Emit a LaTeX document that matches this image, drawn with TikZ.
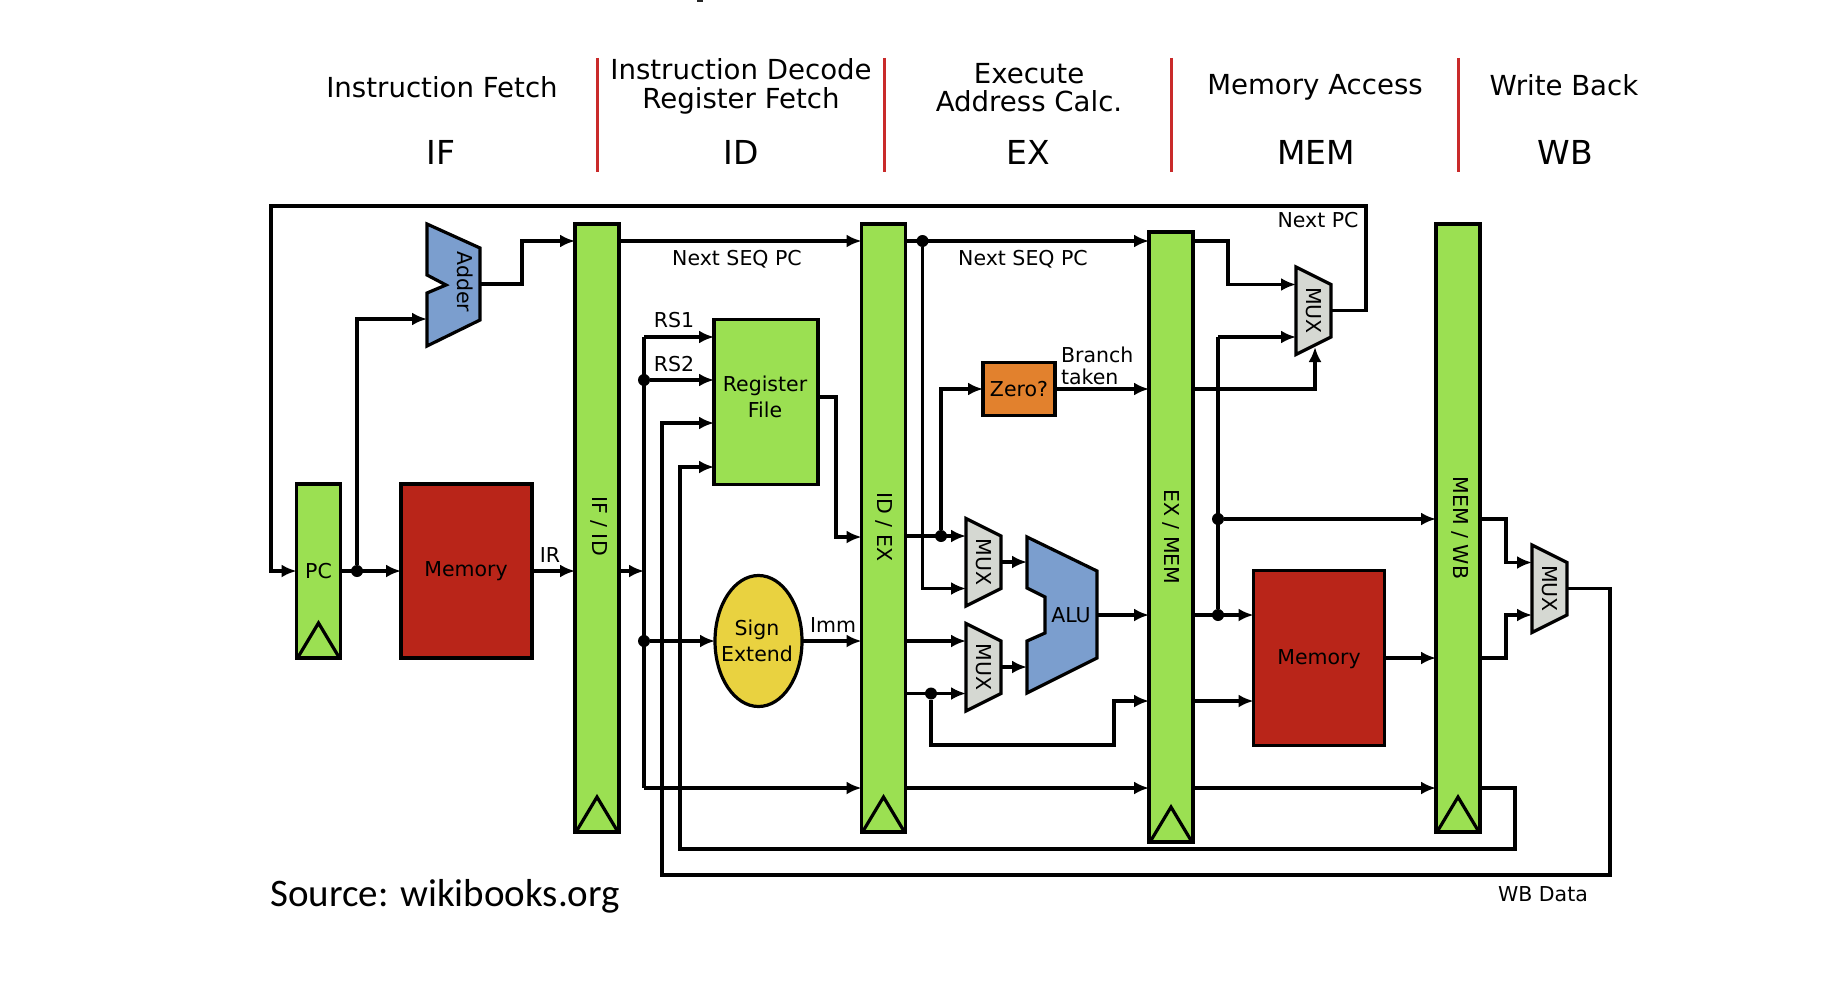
\documentclass[tikz,border=0pt]{standalone}
\usepackage{fontspec}
\setmainfont{DejaVu Sans}
\newfontfamily\srcfont{Carlito}
\usetikzlibrary{arrows.meta,shapes.geometric}
\definecolor{grn}{HTML}{9BE052}
\definecolor{redb}{HTML}{B92519}
\definecolor{blu}{HTML}{7B9ECE}
\definecolor{gry}{HTML}{D5D8D2}
\definecolor{yel}{HTML}{E9D240}
\definecolor{org}{HTML}{E2812D}
\definecolor{sep}{HTML}{C92A2A}
\tikzset{
  x=1pt,y=-1pt,
  block/.style={draw=black,line width=3.2pt,inner sep=0pt,outer sep=0pt,font=\fontsize{20.5}{26}\selectfont,align=center},
  lbl/.style={inner sep=0pt,outer sep=0pt,font=\fontsize{20.5}{21.5}\selectfont,align=center},
  vlbl/.style={lbl,rotate=-90},
  head/.style={inner sep=0pt,font=\fontsize{27.6}{28.5}\selectfont,align=center},
  stage/.style={inner sep=0pt,font=\fontsize{33}{33}\selectfont},
  sepline/.style={draw=sep,line width=3pt},
  wire/.style={draw=black,line width=3.2pt,line join=miter},
  arr/.style={wire,-{Latex[length=15pt,width=13pt]}},
  dotn/.style={circle,fill=black,inner sep=0pt,minimum size=12pt},
  poly/.style={draw=black,line width=3.2pt,line join=miter},
  clk/.style={draw=black,line width=3.2pt,line join=miter}
}
\begin{document}
\begin{tikzpicture}
\useasboundingbox (0,0) rectangle (1822,990);
\fill[white] (0,0) rectangle (1822,990);
\fill[black!85] (697,0) rectangle (703,2);
% headers
\node[head] (hif) at (442,87) {Instruction Fetch};
\node[head] (hid) at (741,86.5) {Instruction Decode\\Register Fetch};
\node[head] (hex) at (1029,87.5) {Execute\\Address Calc.};
\node[head] (hmem) at (1315,87) {Memory Access};
\node[head] (hwb) at (1564,85) {Write Back};
\node[stage] (sif) at (441,152) {IF};
\node[stage] (sid) at (741,152) {ID};
\node[stage] (sex) at (1028,152) {EX};
\node[stage] (smem) at (1316,152) {MEM};
\node[stage] (swb) at (1565,152) {WB};
\foreach \i/\xx in {a/597.5,b/884,c/1171,d/1458}{
  \coordinate (s\i t) at (\xx,58);
  \coordinate (s\i b) at (\xx,172);
  \draw[sepline] (s\i t) -- (s\i b);
}
% blocks
\node[block,fill=grn,minimum width=44pt,minimum height=174pt] (pc) at (318.5,571) {PC};
\node[block,fill=redb,minimum width=131pt,minimum height=174pt] (mema) at (466.5,571) {};
\node[lbl] (memat) at (466,571) {Memory};
\node[block,fill=grn,minimum width=44pt,minimum height=608pt] (ifid) at (597,528) {};
\node[block,fill=grn,minimum width=44pt,minimum height=608pt] (idex) at (883.5,528) {};
\node[block,fill=grn,minimum width=44pt,minimum height=610pt] (exmem) at (1171,537) {};
\node[block,fill=grn,minimum width=44pt,minimum height=608pt] (memwb) at (1458,528) {};
\node[vlbl] at (599,526) {IF / ID};
\node[vlbl] at (884,527) {ID / EX};
\node[vlbl] at (1171,537) {EX / MEM};
\node[vlbl] at (1460,528) {MEM / WB};
\node[block,fill=grn,minimum width=104pt,minimum height=165pt] (reg) at (766,402) {};
\node[lbl,font=\fontsize{20.5}{26.5}\selectfont] (regt) at (765,397) {Register\\File};
\node[block,ellipse,fill=yel,minimum width=87pt,minimum height=131pt] (sign) at (758.5,641) {};
\node[lbl,font=\fontsize{20.5}{25.5}\selectfont] (signt) at (757,641) {Sign\\Extend};
\node[block,fill=org,minimum width=72pt,minimum height=53pt] (zero) at (1019,389) {Zero?};
\node[block,fill=redb,minimum width=131pt,minimum height=175pt] (memb) at (1319,658) {};
\node[lbl] (membt) at (1319,659) {Memory};
% polygons
\draw[poly,fill=blu] (427,224)--(480,248)--(480,320)--(427,346)--(427,293)--(446,285)--(427,275)--cycle;
\node[vlbl] (addert) at (465,282) {Adder};
\coordinate (addin) at (427,319);
\coordinate (addout) at (480,284);
\draw[poly,fill=blu] (1027,537)--(1097,571)--(1097,658)--(1027,693)--(1027,641)--(1045,633)--(1045,597)--(1027,588)--cycle;
\node[lbl] (alut) at (1071,615) {ALU};
\coordinate (aluina) at (1027,562);
\coordinate (aluinb) at (1027,667);
\coordinate (aluout) at (1097,615);
\foreach \n/\xl/\yc in {a/966/562,b/966/667,c/1296/310.5,d/1532/588.5}{
  \draw[poly,fill=gry] (\xl,\yc-43.5)--(\xl+35,\yc-26)--(\xl+35,\yc+26.5)--(\xl,\yc+44)--cycle;
  \node[vlbl] (mux\n) at (\xl+18,\yc) {MUX};
  \coordinate (mux\n ia) at (\xl,\yc-26);
  \coordinate (mux\n ib) at (\xl,\yc+26.5);
  \coordinate (mux\n o) at (\xl+35,\yc);
}
\coordinate (muxcs) at (1315,347);
% clock triangles
\foreach \n in {pc,ifid,idex,exmem,memwb}{
  \draw[clk] ([xshift=-21pt]\n.south) -- ([yshift=35pt]\n.south) -- ([xshift=21pt]\n.south);
}
% labels
\node[lbl] at (550,555) {IR};
\node[lbl] at (674,320) {RS1};
\node[lbl] at (674,364) {RS2};
\node[lbl] at (737,259) {Next SEQ PC};
\node[lbl] at (1023,259) {Next SEQ PC};
\node[lbl] at (833,625) {Imm};
\node[lbl,align=left,anchor=west] at (1061,366) {Branch\\taken};
\node[lbl] at (1318,220) {Next PC};
\node[lbl] at (1543,894) {WB Data};
\node[inner sep=0pt,font=\srcfont\fontsize{39}{39}\selectfont,anchor=west] (src) at (270,896) {Source: wikibooks.org};
% junctions
\node[dotn] (dpc) at (357,571) {};
\node[dotn] (drs) at (644,380) {};
\node[dotn] (dimm) at (644,641) {};
\node[dotn] (dseq) at (922.5,241) {};
\node[dotn] (dza) at (941,536) {};
\node[dotn] (dfw) at (931,693.5) {};
\node[dotn] (dalu) at (1218,615) {};
\node[dotn] (dmem) at (1218,519) {};
% wires
\draw[arr] (muxco) -| (1366,206) -- (271,206) |- (pc.west);
\draw[arr] (pc.east) -- (mema.west);
\draw[arr] (dpc) |- (addin);
\draw[arr] (addout) -| (522,241) -- (ifid.west |- 0,241);
\draw[arr] (mema.east) -- (mema.east -| ifid.west);
\draw[arr] (ifid.east |- 0,571) -- (dimm |- 0,571);
\draw[arr] (ifid.east |- dseq) -- (idex.west |- dseq);
\draw[arr] (idex.east |- dseq) -- (exmem.west |- dseq);
\draw[arr] (dseq) |- (muxaib);
\draw[wire] (dimm |- 0,337) -- (dimm |- 0,788);
\draw[arr] (dimm |- 0,337) -- (reg.west |- 0,337);
\draw[arr] (drs) -- (reg.west |- drs);
\draw[arr] (dimm) -- (sign.west);
\draw[arr] (sign.east) -- (idex.west |- sign.east);
\draw[arr] (dimm |- 0,788) -- (idex.west |- 0,788);
\draw[arr] (idex.east |- 0,788) -- (exmem.west |- 0,788);
\draw[arr] (exmem.east |- 0,788) -- (memwb.west |- 0,788);
\draw[arr] (memwb.east |- 0,788) -| (1515,849) -- (680,849) |- (reg.west |- 0,467);
\draw[arr] (muxdo) -| (1610,875) -- (662,875) |- (reg.west |- 0,423);
\draw[arr] (reg.east |- 0,397) -| (836,537) -- (idex.west |- 0,537);
\draw[arr] (idex.east |- dza) -- (muxaia);
\draw[arr] (dza) |- (zero.west);
\draw[arr] (zero.east) -- (exmem.west |- zero.east);
\draw[arr] (exmem.east |- zero.east) -| (muxcs);
\draw[arr] (idex.east |- muxbia) -- (muxbia);
\draw[arr] (idex.east |- dfw) -- (muxbib);
\draw[arr] (dfw) |- (1114,745) -- (1114,701) -- (exmem.west |- 0,701);
\draw[arr] (muxao) -- (aluina);
\draw[arr] (muxbo) -- (aluinb);
\draw[arr] (aluout) -- (exmem.west |- aluout);
\draw[arr] (exmem.east |- dseq) -| (1228,284.5) -- (muxcia);
\draw[arr] (exmem.east |- dalu) -- (memb.west |- dalu);
\draw[arr] (exmem.east |- 0,701) -- (memb.west |- 0,701);
\draw[wire] (dalu) -- (dalu |- muxcib);
\draw[arr] (dalu |- muxcib) -- (muxcib);
\draw[arr] (dmem) -- (memwb.west |- dmem);
\draw[arr] (memb.east) -- (memwb.west |- memb.east);
\draw[arr] (memwb.east |- dmem) -| (1506,562.5) -- (muxdia);
\draw[arr] (memwb.east |- memb.east) -| (1506,615) -- (muxdib);
\end{tikzpicture}
\end{document}
